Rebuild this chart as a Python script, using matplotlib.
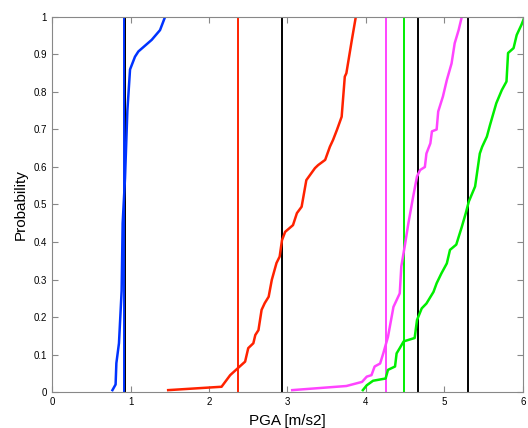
import matplotlib
matplotlib.use("Agg")
import matplotlib.pyplot as plt

plt.rcParams['font.family'] = ['Liberation Sans', 'DejaVu Sans']

blue_x = [0.77, 0.81, 0.82, 0.853, 0.887, 0.90, 0.93, 0.96, 0.994, 1.057, 1.10, 1.27, 1.376, 1.44]
blue_y = [0.005, 0.02, 0.077, 0.13, 0.27, 0.45, 0.57, 0.75, 0.86, 0.894, 0.908, 0.939, 0.965, 1.0]

red_x = [1.48, 2.16, 2.27, 2.37, 2.46, 2.50, 2.565, 2.59, 2.63, 2.67, 2.71, 2.76, 2.80, 2.86,
         2.90, 2.93, 2.97, 3.07, 3.12, 3.18, 3.24, 3.35, 3.39, 3.48, 3.54, 3.58, 3.63, 3.69,
         3.73, 3.75, 3.82, 3.87]
red_y = [0.005, 0.014, 0.045, 0.064, 0.081, 0.117, 0.13, 0.152, 0.165, 0.219, 0.237, 0.254,
         0.299, 0.344, 0.361, 0.405, 0.427, 0.445, 0.477, 0.494, 0.565, 0.597, 0.605, 0.619,
         0.654, 0.672, 0.699, 0.734, 0.841, 0.85, 0.939, 1.0]

magenta_x = [3.06, 3.75, 3.95, 4.01, 4.07, 4.11, 4.18, 4.22, 4.28, 4.35, 4.39, 4.43, 4.45, 4.50,
             4.54, 4.60, 4.65, 4.69, 4.75, 4.77, 4.82, 4.84, 4.90, 4.92, 4.98, 5.03, 5.09,
             5.13, 5.18, 5.22]
magenta_y = [0.005, 0.016, 0.027, 0.041, 0.045, 0.068, 0.076, 0.103, 0.147, 0.227, 0.245, 0.263,
             0.335, 0.397, 0.45, 0.52, 0.575, 0.592, 0.60, 0.636, 0.663, 0.695, 0.70, 0.748,
             0.788, 0.832, 0.876, 0.93, 0.965, 1.0]

green_x = [3.96, 4.01, 4.09, 4.25, 4.28, 4.37, 4.39, 4.43, 4.48, 4.62, 4.65, 4.71, 4.77, 4.86,
           4.90, 4.96, 5.03, 5.07, 5.15, 5.22, 5.27, 5.31, 5.39, 5.45, 5.48, 5.54, 5.58, 5.66,
           5.73, 5.79, 5.81, 5.88, 5.92, 5.98, 6.02]
green_y = [0.005, 0.018, 0.03, 0.036, 0.059, 0.068, 0.103, 0.117, 0.135, 0.144, 0.192, 0.223,
           0.236, 0.267, 0.29, 0.316, 0.343, 0.379, 0.393, 0.44, 0.476, 0.508, 0.548, 0.636,
           0.654, 0.681, 0.712, 0.77, 0.805, 0.828, 0.904, 0.917, 0.952, 0.979, 1.0]

# reference PGA values (vertical lines), black ones first so coloured ones sit on top
vline_pos = [0.935, 2.93, 4.66, 5.30, 0.92, 2.37, 4.25, 4.48]
vline_col = ['black', 'black', 'black', 'black', '#0033ff', '#ff2200', '#ff44ff', '#00ee00']

fig = plt.figure(figsize=(5.28, 4.28), dpi=100)
ax = fig.add_axes([0.0985, 0.0841, 0.892, 0.8762])

for xv, c in zip(vline_pos, vline_col):
    ax.axvline(xv, color=c, lw=1.4)

ax.plot(blue_x, blue_y, color='#0033ff', lw=1.8)
ax.plot(red_x, red_y, color='#ff2200', lw=1.8)
ax.plot(magenta_x, magenta_y, color='#ff44ff', lw=1.8)
ax.plot(green_x, green_y, color='#00ee00', lw=1.8)

ax.set_xlim(0, 6)
ax.set_ylim(0, 1)
ax.set_xticks(range(7))
ax.set_yticks([i / 10 for i in range(11)])
ax.set_yticklabels(['0', '0.1', '0.2', '0.3', '0.4', '0.5', '0.6', '0.7', '0.8', '0.9', '1'])
ax.tick_params(direction='in', top=True, right=True, labelsize=7, length=4,
               color='#888888', width=0.8)
for s in ax.spines.values():
    s.set_color('#888888')
    s.set_linewidth(0.8)
ax.set_xlabel('PGA [m/s2]', fontsize=11, labelpad=5)
ax.set_ylabel('Probability', fontsize=11)

fig.savefig('out.png', dpi=100)
